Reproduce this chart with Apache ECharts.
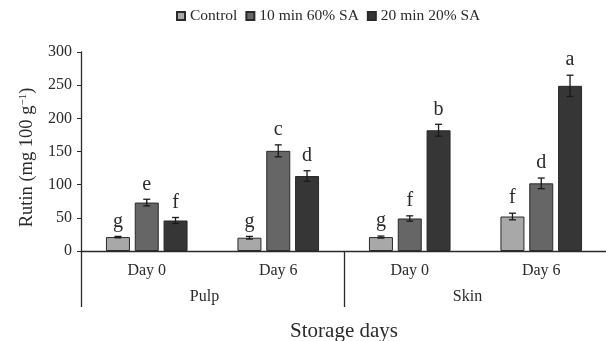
<!DOCTYPE html>
<html>
<head>
<meta charset="utf-8">
<script src="https://cdn.jsdelivr.net/npm/echarts@6/dist/echarts.min.js"></script>
<style>html,body{margin:0;padding:0;background:#fff}#c{width:606px;height:341px}</style>
</head>
<body>
<div id="c"></div>
<script>
const days = ['Day 0', 'Day 6', 'Day 0', 'Day 6'];
const tissues = ['Pulp', 'Skin'];
const seriesNames = ['Control', '10 min 60% SA', '20 min 20% SA'];
const controlVals = [21, 20, 21, 52];
const sa60Vals = [73, 151, 49, 102];
const sa20Vals = [46, 113, 182, 249];
const controlErr = [1, 2, 1.5, 5];
const sa60Err = [5, 9, 4, 8];
const sa20Err = [4.5, 8, 9, 16];
const controlLetters = ['g', 'g', 'g', 'f'];
const sa60Letters = ['e', 'c', 'f', 'd'];
const sa20Letters = ['f', 'd', 'b', 'a'];
const yTicks = [0, 50, 100, 150, 200, 250, 300];

const FONT = '"Liberation Serif", serif';
const TXT = '#2a2a2a';
const colors = ['#a8a8a8', '#666666', '#363636'];
const barW = 24;
const offsets = [-28.8, 0, 28.8];

const vals = [controlVals, sa60Vals, sa20Vals];
const errs = [controlErr, sa60Err, sa20Err];
const letters = [controlLetters, sa60Letters, sa20Letters];

const series = [];
vals.forEach((v, s) => {
  series.push({
    name: seriesNames[s], type: 'bar', barWidth: barW, barGap: '20%',
    data: v,
    itemStyle: { color: colors[s], borderColor: '#2a2a2a', borderWidth: 1 },
    emphasis: { disabled: true }
  });
});
vals.forEach((v, s) => {
  series.push({
    name: 'err' + s, type: 'custom', z: 5,
    data: v.map((val, i) => [i, val, errs[s][i], letters[s][i]]),
    renderItem: function (params, api) {
      const i = api.value(0), val = api.value(1), e = api.value(2);
      const x = api.coord([i, val])[0] + offsets[s];
      const yt = api.coord([i, val + e])[1];
      const yb = api.coord([i, val - e])[1];
      const cw = 3.5;
      const st = { stroke: '#1a1a1a', lineWidth: 1.3 };
      return {
        type: 'group', children: [
          { type: 'line', shape: { x1: x, y1: yt, x2: x, y2: yb }, style: st },
          { type: 'line', shape: { x1: x - cw, y1: yt, x2: x + cw, y2: yt }, style: st },
          { type: 'line', shape: { x1: x - cw, y1: yb, x2: x + cw, y2: yb }, style: st },
          { type: 'text', style: { text: letters[s][i], x: x, y: yt - 5, align: 'center', verticalAlign: 'bottom', font: '20px ' + FONT, fill: TXT } }
        ]
      };
    }
  });
});

const chart = echarts.init(document.getElementById('c'), null, { renderer: 'canvas' });
chart.setOption({
  animation: false,
  textStyle: { fontFamily: FONT, color: TXT },
  legend: {
    data: seriesNames, left: 171, top: 3, itemWidth: 8, itemHeight: 8, itemGap: 8,
    icon: 'rect',
    textStyle: { fontFamily: FONT, fontSize: 15.5, color: TXT }
  },
  grid: { left: 81, right: -1, top: 52, bottom: 90, outerBoundsMode: 'none', containLabel: false },
  xAxis: [
    {
      type: 'category', data: days, position: 'bottom',
      axisLine: { lineStyle: { color: '#2a2a2a', width: 1.3 } },
      axisTick: { show: false },
      axisLabel: { fontFamily: FONT, fontSize: 16, color: TXT, margin: 12 },
      name: 'Storage days', nameLocation: 'middle', nameGap: 70,
      nameTextStyle: { fontFamily: FONT, fontSize: 21, color: TXT }
    },
    {
      type: 'category', data: tissues, position: 'bottom',
      axisLine: { show: false },
      axisTick: { show: true, length: 56, lineStyle: { color: '#2a2a2a', width: 1.3 } },
      axisLabel: { fontFamily: FONT, fontSize: 16, color: TXT, margin: 38, padding: [0, 16, 0, 0] }
    }
  ],
  yAxis: {
    type: 'value', min: 0, max: 300, interval: 50,
    splitLine: { show: false },
    axisLine: { show: true, lineStyle: { color: '#2a2a2a', width: 1.3 } },
    axisTick: { show: true, length: 4, lineStyle: { color: '#2a2a2a' } },
    axisLabel: { fontFamily: FONT, fontSize: 16, color: TXT, margin: 9,
      formatter: v => yTicks.includes(v) ? String(v) : '' },
    name: 'Rutin (mg 100 g{sup|−1})', nameLocation: 'middle', nameGap: 44,
    nameTextStyle: { fontFamily: FONT, fontSize: 18.5, color: TXT, padding: [0, 12, 0, 0],
      rich: { sup: { fontFamily: FONT, fontSize: 11, color: TXT, verticalAlign: 'top', padding: [0, 0, 8, 0] } } }
  },
  series: series
});
</script>
</body>
</html>
